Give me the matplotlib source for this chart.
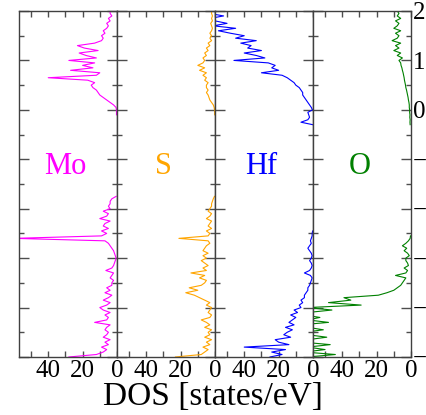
import numpy as np
import matplotlib
matplotlib.use("Agg")
import matplotlib.pyplot as plt
from matplotlib.ticker import MultipleLocator

nan = np.nan

# energy grid (eV), 0.05 eV step from -5 to 2
energy = np.linspace(-5.0, 2.0, 141)

# projected DOS (states/eV), bottom -> top
dos_mo = [28, 12, 8, 6, 9, 5, 7, 4, 8, 6,
          5, 7, 6, 4, 13, 6, 5, 7, 4, 8,
          10, 6, 4, 8, 5, 3, 7, 4, 6, 3,
          3, 2, 4, 3, 2, 6.5, 3, 2, 1.5, 1,
          0.5, 1, 1.5, 2, 3, 4, 5, 7, 60, 9,
          6, 9, 5, 8, 7, 4, 10, 6, 5, 8,
          4, 5, 4, 4, 3, 0.5, nan, nan, nan, nan,
          nan, nan, nan, nan, nan, nan, nan, nan, nan, nan,
          nan, nan, nan, nan, nan, nan, nan, nan, nan, nan,
          nan, nan, nan, nan, nan, nan, nan, nan, 0.3, 0.3,
          0.3, 0.6, 2, 4, 6, 8, 10, 11, 12, 14,
          15, 13, 17, 40, 12, 10, 27, 14, 20, 13,
          28, 12, 18, 22, 11, 19, 23, 13, 9, 8,
          9, 7, 8, 6, 5, 6, 4, 5, 3, 4,
          4]

dos_s = [23, 8, 6, 4, 7, 3, 5, 2, 6, 3,
         4, 2, 6, 3, 5, 8, 3, 2, 4, 3,
         2, 5, 3, 6, 9, 12, 17, 10, 15, 8,
         6, 5, 9, 6, 14, 5, 7, 4, 6, 8,
         5, 7, 4, 7, 6, 5, 3, 4, 21, 4,
         3, 5, 2, 4, 3, 2, 5, 3, 2, 4,
         3, 2, 2, 1.5, 1, 0.3, nan, nan, nan, nan,
         nan, nan, nan, nan, nan, nan, nan, nan, nan, nan,
         nan, nan, nan, nan, nan, nan, nan, nan, nan, nan,
         nan, nan, nan, nan, nan, nan, nan, nan, 0.2, 0.2,
         0.3, 0.5, 1, 2, 3, 3.5, 4, 5, 4, 5,
         5, 4, 6, 5, 7, 5, 9, 6, 10, 7,
         6, 7, 5, 6, 4, 5, 3, 4, 2, 3,
         2, 3, 2, 1.5, 2, 2.5, 1.5, 2, 1.5, 2,
         2]

dos_hf = [25, 18, 24, 16, 40, 14, 20, 22, 13, 17,
          15, 12, 16, 11, 14, 12, 10, 13, 9, 11,
          7, 8, 6, 7, 5, 5, 4, 3, 3, 2,
          1.5, 1, 0.5, 1.5, 5, 2, 1, 0.5, 1, 2,
          1, 0.5, 1, 2, 3, 2, 1, 1.5, 1, 0.5,
          0.5, 0.2, nan, nan, nan, nan, nan, nan, nan, nan,
          nan, nan, nan, nan, nan, nan, nan, nan, nan, nan,
          nan, nan, nan, nan, nan, nan, nan, nan, nan, nan,
          nan, nan, nan, nan, nan, nan, nan, nan, nan, nan,
          nan, nan, nan, nan, 0.2, 7, 3, 2, 2.5, 3,
          0.3, 1, 2, 3, 4, 5, 6, 6, 7, 8,
          10, 11, 13, 15, 18, 30, 20, 24, 22, 26,
          46, 28, 33, 40, 30, 38, 36, 42, 33, 45,
          40, 48, 55, 45, 58, 50, 57, 60, 52, 60,
          58]

dos_o = [60, 44, 62, 50, 60, 47, 63, 60, 49, 60,
         62, 51, 60, 64, 48, 60, 53, 62, 60, 46,
         60, 29, 48, 35, 39, 19, 14, 10, 8, 6,
         5, 4, 3, 9, 3, 2, 4, 1.5, 2, 3,
         3, 1, 2, 4, 2.5, 5, 3, 1.5, 0.5, 0.3,
         nan, nan, nan, nan, nan, nan, nan, nan, nan, nan,
         nan, nan, nan, nan, nan, nan, nan, nan, nan, nan,
         nan, nan, nan, nan, nan, nan, nan, nan, nan, nan,
         nan, nan, nan, nan, nan, nan, nan, nan, nan, nan,
         nan, nan, nan, nan, 0.5, 0.6, 0.5, 0.7, 0.6, 0.8,
         0.8, 1, 1, 1.2, 1.5, 1.7, 2, 2.3, 2.6, 3,
         3.2, 3.5, 3.8, 4, 4.3, 4.6, 5, 5.3, 5.8, 6,
         7, 5, 8, 6, 10, 7, 9, 6, 11, 8,
         7, 9, 6, 10, 8, 7, 9, 6, 8, 7,
         8]

species = ["Mo", "S", "Hf", "O"]
series = [dos_mo, dos_s, dos_hf, dos_o]
colors = ["#ff00ff", "#ffa500", "#0000ff", "#008000"]

plt.rcParams['font.family'] = ['Liberation Serif', 'DejaVu Serif']

fig, axes = plt.subplots(1, 4, figsize=(4.26, 4.15), dpi=100, sharey=True)
fig.subplots_adjust(left=0.0446, right=0.9648, top=0.9735, bottom=0.1398, wspace=0)

for i, (ax, name, dos, col) in enumerate(zip(axes, species, series, colors)):
    ax.plot(np.array(dos, dtype=float), energy, color=col, lw=0.8)
    ax.set_xlim(57, 0)
    ax.set_ylim(-5, 2)
    ax.text(30, -1.15, name, color=col, fontsize=22, ha='center', va='center')

    ax.xaxis.set_major_locator(MultipleLocator(20))
    ax.xaxis.set_minor_locator(MultipleLocator(10))
    ax.yaxis.set_major_locator(MultipleLocator(1))
    ax.yaxis.set_minor_locator(MultipleLocator(0.5))
    ax.tick_params(axis='both', which='both', direction='in', top=True, right=True,
                   color='0.3', width=1)
    ax.tick_params(axis='x', which='both', length=4, labelsize=18, pad=2)
    ax.tick_params(axis='y', which='major', length=7)
    ax.tick_params(axis='y', which='minor', length=3.5)
    ax.tick_params(axis='y', labelleft=False, labelright=(i == 3), labelsize=18, pad=1.5)
    for sp in ax.spines.values():
        sp.set_color('0.25')
        sp.set_linewidth(1)

fig.text(0.5, 0.008, "DOS [states/eV]", ha='center', va='bottom', fontsize=24)

fig.savefig("out.png", dpi=100)
